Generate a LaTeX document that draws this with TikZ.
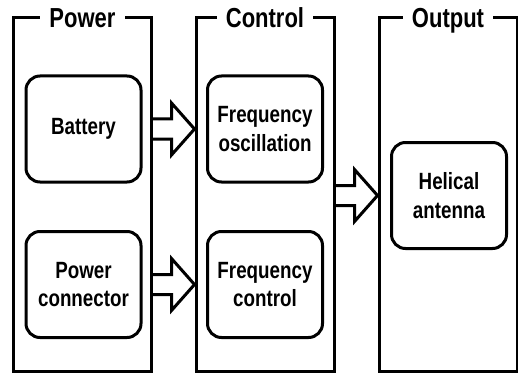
\documentclass[tikz,border=0pt]{standalone}
\usepackage{fontspec}
\setmainfont[FakeStretch=0.8]{Liberation Sans}
\usetikzlibrary{calc}

\newcommand{\blockarrow}[2]{%
  \draw[arrowline] let \p1=(#1), \p2=(#2) in
    (\x1,\y1+10pt) -- (\x2-23pt,\y1+10pt) -- (\x2-23pt,\y1+26pt)
    -- (\x2,\y1) -- (\x2-23pt,\y1-26pt) -- (\x2-23pt,\y1-10pt) -- (\x1,\y1-10pt);}

\begin{document}
\begin{tikzpicture}[x=1pt,y=-1pt,
  frame/.style={draw,line width=3pt,minimum width=138pt,minimum height=353pt},
  title/.style={fill=white,inner xsep=9pt,inner ysep=0pt,anchor=base,
    font=\fontsize{27.5}{30}\selectfont\bfseries},
  block/.style={draw,line width=3pt,rounded corners=14pt,minimum width=115pt,
    minimum height=106pt,align=center,font=\fontsize{23.5}{28.5}\selectfont\bfseries},
  arrowline/.style={line width=3pt,line join=miter}]

\useasboundingbox (0,0) rectangle (518,374);

% groups
\node[frame] (power) at (82.5,194.5) {};
\node[frame] (control) at (265,194.5) {};
\node[frame] (output) at (448,194.5) {};

\node[title] (powertitle) at (82.5,27.5) {Power};
\node[title] (controltitle) at (265,27.5) {Control};
\node[title] (outputtitle) at (448,27.5) {Output};

% blocks
\node[block] (battery) at (83.5,129) {Battery};
\node[block] (connector) at (83.5,284.5) {Power\\connector};
\node[block] (oscillation) at (265,129) {Frequency\\oscillation};
\node[block] (freqcontrol) at (265,284.5) {Frequency\\control};
\node[block] (antenna) at (449,195.5) {Helical\\antenna};

% flow
\blockarrow{power.east |- battery}{control.west |- battery}
\blockarrow{power.east |- connector}{control.west |- connector}
\blockarrow{control.east |- antenna}{output.west |- antenna}
\end{tikzpicture}
\end{document}
